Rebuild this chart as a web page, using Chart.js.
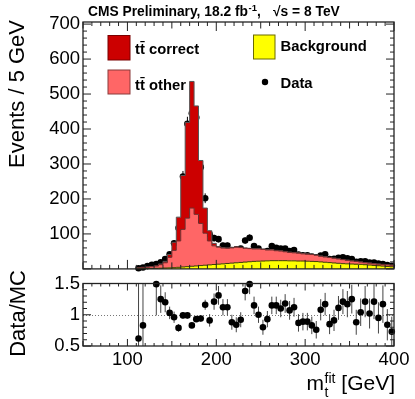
<!DOCTYPE html>
<html>
<head>
<meta charset="utf-8">
<script src="https://cdn.jsdelivr.net/npm/chart.js@4.4.0/dist/chart.umd.min.js"></script>
<style>
  html, body { margin: 0; padding: 0; background: #fff; }
  #wrap { position: relative; width: 415px; height: 399px; }
  canvas { position: absolute; left: 0; }
  #top { top: 0; }
  #bottom { top: 262px; }
</style>
</head>
<body>
<div id="wrap">
  <canvas id="top" width="415" height="283"></canvas>
  <canvas id="bottom" width="415" height="137"></canvas>
</div>
<script>
// bins of 5 GeV, lower edges
const binLow = [110, 115, 120, 125, 130, 135, 140, 145, 150, 155, 160, 165, 170, 175, 180, 185, 190, 195, 200, 205,
  210, 215, 220, 225, 230, 235, 240, 245, 250, 255, 260, 265, 270, 275, 280, 285, 290, 295, 300, 305,
  310, 315, 320, 325, 330, 335, 340, 345, 350, 355, 360, 365, 370, 375, 380, 385, 390, 395];
const binWidth = 5;
const binTop = 400;

// stacked simulation
const background = [0.3, 0.6, 1, 1.3, 1.7, 2, 2.5, 3, 3.5, 4.5, 5.5, 6.5, 7.5, 8.5, 9.5, 10.5, 11.5, 12.5, 13.5, 14.5,
  15.5, 16.5, 17.5, 18.5, 19.5, 20.5, 21.5, 22, 22.5, 23, 23.5, 23.5, 23.5, 23.5, 23, 23, 22.5, 22.5, 22, 21.5,
  21, 20, 19, 18, 17, 16, 15, 14.5, 14, 13.5, 13, 12, 11, 10, 9, 8, 7, 6];
const ttOther = [2.5, 3.5, 4, 5, 6.5, 10, 15, 30, 49.5, 75.5, 107.5, 138.5, 166.5, 147.5, 120.5, 91.5, 68.5, 53.5, 48.5, 45,
  43.5, 43.5, 44.5, 42.5, 39.5, 37.5, 35.5, 35, 33.5, 31, 30.5, 28.5, 27.5, 25.5, 24, 23, 22.5, 20.5, 20, 19.5,
  18, 16, 15, 14.5, 13.5, 12.5, 11.5, 10, 8.5, 8, 6.5, 5.5, 5.5, 4.5, 4.5, 4.5, 4.5, 4.5];
const ttCorrect = [0.5, 0.5, 0.5, 0.5, 0.5, 2, 4, 8, 23, 68, 154, 274, 362, 310, 180, 72, 29, 7, 2, 1.5,
  1, 1, 1, 1, 1, 1, 1, 1, 1, 1, 1, 1, 1, 1, 1, 1, 1, 1, 1, 1,
  1, 1, 1, 0.5, 0.5, 0.5, 0.5, 0.5, 0.5, 0.5, 0.5, 0.5, 0.5, 0.5, 0.5, 0.5, 0.5, 0.5];

// data
const dataCounts = [2, 4, 8, 12, 14, 19, 28, 42, 73, 117, 264, 415, 445, 433, 291, 202, 99, 88, 85, 67,
  67, 54, 56, 58, 81, 89, 65, 58, 47, 51, 65, 60, 58, 58, 51, 54, 41, 39, 39, 35,
  33, 38, 42, 28, 29, 32, 33, 30, 28, 20, 22, 22, 18, 18, 15, 14, 11, 9];
const dataErr = [1.5, 2, 3, 3.5, 4, 4.5, 5.5, 6.5, 8.5, 11, 16, 20, 21, 21, 17, 14, 10, 9.5, 9, 8,
  8, 7.5, 7.5, 7.5, 9, 9.5, 8, 7.5, 7, 7, 8, 7.5, 7.5, 7.5, 7, 7.5, 6.5, 6, 6, 6,
  5.5, 6, 6.5, 5.5, 5.5, 5.5, 5.5, 5.5, 5.5, 4.5, 4.5, 4.5, 4, 4, 4, 4, 3.5, 3];

// Data/MC
const ratio = [0.62, 0.83, null, null, 1.49, 1.25, 1.2, 1.03, 0.96, 0.79, 0.99, 0.99, 0.83, 0.93, 0.94, 1.16, 0.91, 1.21, 1.31, 1.12,
  1.12, 0.88, 0.84, 0.92, 1.38, 1.49, 1.15, 1.0, 0.8, 0.93, 1.15, 1.15, 1.10, 1.18, 1.07, 1.12, 0.87, 0.89, 0.89, 0.83,
  0.76, 1.08, 1.17, 0.85, 0.91, 1.11, 1.21, 1.17, 1.25, 0.88, 1.04, 1.21, 1.02, 1.21, 0.95, 1.17, 0.84, 0.73];
const ratioErr = [1.0, 0.7, 0, 0, 0.5, 0.22, 0.16, 0.1, 0.09, 0.06, 0.05, 0.05, 0.04, 0.04, 0.05, 0.08, 0.1, 0.13, 0.15, 0.13,
  0.13, 0.12, 0.12, 0.12, 0.15, 0.16, 0.14, 0.13, 0.12, 0.13, 0.14, 0.14, 0.14, 0.15, 0.15, 0.15, 0.14, 0.14, 0.14, 0.14,
  0.14, 0.17, 0.18, 0.16, 0.17, 0.19, 0.2, 0.21, 0.23, 0.2, 0.22, 0.25, 0.24, 0.28, 0.25, 0.3, 0.25, 0.24];

const xTicks = [100, 200, 300, 400];
const yTicks = [100, 200, 300, 400, 500, 600, 700];
const ratioTicks = [0.5, 1, 1.5];

const FONT = "'Liberation Sans', Arial, Helvetica, sans-serif";

function stepPoints(vals) {
  const pts = binLow.map((x, i) => ({ x: x, y: vals[i] }));
  pts.push({ x: binTop, y: vals[vals.length - 1] });
  return pts;
}
function centrePoints(vals) {
  return binLow.map((x, i) => ({ x: x + binWidth / 2, y: vals[i] }));
}

// vertical error bars, drawn under the markers
const errorBars = {
  id: 'errorBars',
  beforeDatasetDraw(chart, args) {
    const ds = chart.data.datasets[args.index];
    if (!ds.errors) return;
    const ctx = chart.ctx, a = chart.chartArea;
    const ys = chart.scales[args.meta.yAxisID];
    ctx.save();
    ctx.beginPath();
    ctx.rect(a.left, a.top, a.right - a.left, a.bottom - a.top);
    ctx.clip();
    ctx.strokeStyle = ds.errorColor || '#000';
    ctx.lineWidth = 1;
    ctx.beginPath();
    args.meta.data.forEach((pt, i) => {
      const v = ds.data[i].y;
      if (v === null || !ds.errors[i]) return;
      ctx.moveTo(pt.x, ys.getPixelForValue(v + ds.errors[i]));
      ctx.lineTo(pt.x, ys.getPixelForValue(v - ds.errors[i]));
    });
    ctx.stroke();
    ctx.restore();
  }
};

// ROOT style frame with ticks on all four sides
const frameTicks = {
  id: 'frameTicks',
  beforeDatasetsDraw(chart, args, o) {
    if (o.refLine === undefined) return;
    const { ctx, chartArea: a } = chart;
    const py = Math.round(chart.scales.y.getPixelForValue(o.refLine)) + 0.5;
    ctx.save();
    ctx.strokeStyle = '#777';
    ctx.lineWidth = 1;
    ctx.setLineDash([1, 2]);
    ctx.beginPath();
    ctx.moveTo(a.left, py);
    ctx.lineTo(a.right, py);
    ctx.stroke();
    ctx.restore();
  },
  afterDraw(chart, args, o) {
    const { ctx, chartArea: a } = chart;
    const x = chart.scales.x, y = chart.scales.y;
    ctx.save();
    ctx.strokeStyle = '#222';
    ctx.lineWidth = 1;
    ctx.beginPath();
    for (let m = 50; m <= 400; m += 10) {
      const px = x.getPixelForValue(m);
      const len = m % 100 === 0 ? o.xLen[0] : (m % 50 === 0 ? o.xLen[1] : o.xLen[2]);
      ctx.moveTo(px, a.bottom); ctx.lineTo(px, a.bottom - len);
      ctx.moveTo(px, a.top); ctx.lineTo(px, a.top + len);
    }
    const n = Math.round((o.yTo - o.yFrom) / o.yStep);
    for (let k = 0; k <= n; k++) {
      const py = y.getPixelForValue(o.yFrom + k * o.yStep);
      const len = k % o.yEvery === 0 ? o.yLen[0] : o.yLen[1];
      ctx.moveTo(a.left, py); ctx.lineTo(a.left + len, py);
      ctx.moveTo(a.right, py); ctx.lineTo(a.right - len, py);
    }
    ctx.stroke();
    ctx.lineWidth = 1.3;
    ctx.strokeRect(a.left, a.top, a.right - a.left, a.bottom - a.top);
    ctx.restore();
  }
};

const topTexts = {
  id: 'topTexts',
  afterDraw(chart) {
    const ctx = chart.ctx;
    ctx.save();
    ctx.fillStyle = '#000';
    ctx.textBaseline = 'alphabetic';
    ctx.textAlign = 'left';

    // header
    const head = 'CMS Preliminary, 18.2 fb';
    ctx.font = 'bold 13.8px ' + FONT;
    ctx.fillText(head, 88, 16);
    let hx = 88 + ctx.measureText(head).width + 0.5;
    ctx.font = 'bold 9.5px ' + FONT;
    ctx.fillText('-1', hx, 10.5);
    hx += ctx.measureText('-1').width;
    ctx.font = 'bold 13.8px ' + FONT;
    ctx.fillText(',', hx, 16);
    ctx.fillText('\u221As = 8 TeV', 273, 16);

    // legend
    ctx.lineWidth = 1;
    ctx.fillStyle = '#cc0000'; ctx.strokeStyle = '#7a0000';
    ctx.fillRect(108, 35.5, 22, 24.5); ctx.strokeRect(108, 35.5, 22, 24.5);
    ctx.fillStyle = '#ff6666'; ctx.strokeStyle = '#8a3a3a';
    ctx.fillRect(108, 70, 22, 24); ctx.strokeRect(108, 70, 22, 24);
    ctx.fillStyle = '#ffff00'; ctx.strokeStyle = '#6b6b00';
    ctx.fillRect(253.5, 35, 21.5, 24); ctx.strokeRect(253.5, 35, 21.5, 24);
    ctx.fillStyle = '#000';
    ctx.beginPath(); ctx.arc(265, 82, 3.2, 0, Math.PI * 2); ctx.fill();
    ctx.font = 'bold 14.8px ' + FONT;
    ctx.fillText('tt\u0304 correct', 135, 53.5);
    ctx.fillText('tt\u0304 other', 135, 89.5);
    ctx.fillText('Background', 280.5, 51);
    ctx.fillText('Data', 280.5, 87.5);

    // y title
    ctx.font = '22px ' + FONT;
    ctx.translate(23.5, 20);
    ctx.rotate(-Math.PI / 2);
    ctx.textAlign = 'right';
    ctx.fillText('Events / 5 GeV', 0, 0);
    ctx.restore();
  }
};

const bottomTexts = {
  id: 'bottomTexts',
  afterDraw(chart) {
    const ctx = chart.ctx;
    ctx.save();
    ctx.fillStyle = '#000';
    ctx.textBaseline = 'alphabetic';

    // x title: m_t^fit [GeV]
    const base = 128;
    ctx.font = '21px ' + FONT;
    ctx.textAlign = 'right';
    ctx.fillText(' [GeV]', 395, base);
    const wGeV = ctx.measureText(' [GeV]').width;
    ctx.font = '14px ' + FONT;
    const wBlock = Math.max(ctx.measureText('fit').width, ctx.measureText('t').width);
    const bx = 395 - wGeV - wBlock;
    ctx.textAlign = 'left';
    ctx.fillText('fit', bx, base - 7.5);
    ctx.fillText('t', bx, base + 6.5);
    ctx.font = '21px ' + FONT;
    ctx.textAlign = 'right';
    ctx.fillText('m', bx - 0.5, base);

    // y title
    ctx.font = '22px ' + FONT;
    ctx.translate(24.5, 8);
    ctx.rotate(-Math.PI / 2);
    ctx.textAlign = 'right';
    ctx.fillText('Data/MC', 0, 0);
    ctx.restore();
  }
};

const tickFont = { family: FONT, size: 18.5 };

new Chart(document.getElementById('top'), {
  type: 'line',
  data: {
    datasets: [
      { label: 'Background', data: stepPoints(background), stepped: true, fill: 'origin', stack: 'mc',
        backgroundColor: '#ffff00', borderColor: '#3d3d00', borderWidth: 1, pointRadius: 0 },
      { label: 'tt other', data: stepPoints(ttOther), stepped: true, fill: '-1', stack: 'mc',
        backgroundColor: '#ff6666', borderColor: '#6e2a2a', borderWidth: 1, pointRadius: 0 },
      { label: 'tt correct', data: stepPoints(ttCorrect), stepped: true, fill: '-1', stack: 'mc',
        backgroundColor: '#cc0000', borderColor: '#555555', borderWidth: 1, pointRadius: 0 },
      { label: 'Data', data: centrePoints(dataCounts), showLine: false, stack: 'data', clip: false,
        pointRadius: 3.3, pointBorderWidth: 0, pointBackgroundColor: '#000', errors: dataErr, errorColor: '#000' }
    ]
  },
  options: {
    responsive: false,
    animation: false,
    events: [],
    layout: { padding: { top: 22, right: 21, bottom: 3.5, left: 0 }, autoPadding: false },
    plugins: {
      legend: { display: false },
      tooltip: { enabled: false },
      frameTicks: { xLen: [9, 6.5, 4], yFrom: 0, yTo: 700, yStep: 20, yEvery: 5, yLen: [8, 4] }
    },
    scales: {
      x: { type: 'linear', min: 50, max: 400, display: false },
      y: {
        min: 0, max: 706, stacked: true,
        grid: { display: false, drawTicks: false }, border: { display: false },
        afterFit: s => { s.width = 83; },
        afterBuildTicks: s => { s.ticks = yTicks.map(v => ({ value: v })); },
        ticks: { padding: 3, color: '#000', font: tickFont, callback: v => String(v) }
      }
    }
  },
  plugins: [errorBars, frameTicks, topTexts]
});

new Chart(document.getElementById('bottom'), {
  type: 'line',
  data: {
    datasets: [
      { label: 'Data/MC', data: centrePoints(ratio), showLine: false, clip: false,
        pointRadius: 3.3, pointBorderWidth: 0, pointBackgroundColor: '#000', errors: ratioErr, errorColor: '#444' }
    ]
  },
  options: {
    responsive: false,
    animation: false,
    events: [],
    layout: { padding: { top: 21.5, right: 21, bottom: 0, left: 0 }, autoPadding: false },
    plugins: {
      legend: { display: false },
      tooltip: { enabled: false },
      frameTicks: { xLen: [7, 5, 3], yFrom: 0.5, yTo: 1.5, yStep: 0.1, yEvery: 5, yLen: [8, 4], refLine: 1 }
    },
    scales: {
      x: {
        type: 'linear', min: 50, max: 400,
        grid: { display: false, drawTicks: false }, border: { display: false },
        afterFit: s => { s.height = 53; },
        afterBuildTicks: s => { s.ticks = xTicks.map(v => ({ value: v })); },
        ticks: { padding: 3, color: '#000', font: tickFont, maxRotation: 0, autoSkip: false, callback: v => String(v) }
      },
      y: {
        min: 0.5, max: 1.5,
        grid: { display: false, drawTicks: false }, border: { display: false },
        afterFit: s => { s.width = 83; },
        afterBuildTicks: s => { s.ticks = ratioTicks.map(v => ({ value: v })); },
        ticks: { padding: 3, color: '#000', font: tickFont, callback: v => String(v) }
      }
    }
  },
  plugins: [errorBars, frameTicks, bottomTexts]
});
</script>
</body>
</html>
